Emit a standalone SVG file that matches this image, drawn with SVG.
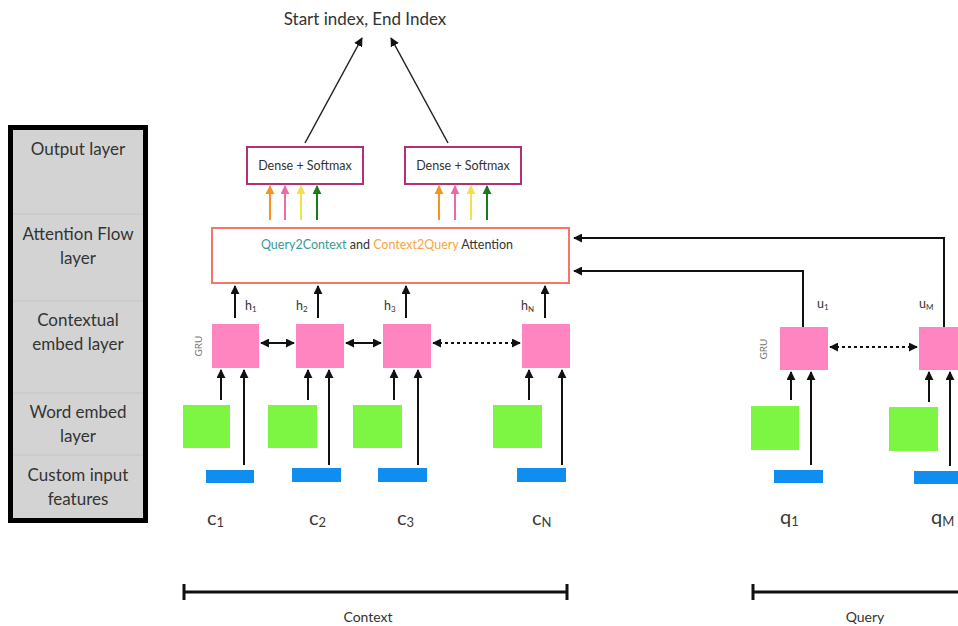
<svg xmlns="http://www.w3.org/2000/svg" width="958" height="626" viewBox="0 0 958 626">
  <style>
    text { font-family: Lato, "Open Sans", "Liberation Sans", sans-serif; fill: #333; }
    .side { font-size: 17px; text-anchor: middle; }
    .small { font-size: 12.5px; text-anchor: middle; }
    .tok { font-size: 20px; fill: #3a3a3a; }
    .hl { font-size: 12.5px; }
    .gru-lbl { font-size: 10px; fill: #777; text-anchor: middle; }
    .gru { fill: #ff85c0; }
    .emb { fill: #7cf643; }
    .feat { fill: #0f8ef0; }
    .ln { stroke: #111; stroke-width: 2; fill: none; }
    .thin { stroke: #222; stroke-width: 1.5; fill: none; }
    .dot { stroke: #111; stroke-width: 2; fill: none; stroke-dasharray: 3 3; }
    .dense { fill: #fff; stroke: #b0307a; stroke-width: 2; }
    .ruler { stroke: #111; stroke-width: 3; fill: none; }
  </style>
  <defs>
    <marker id="ah" viewBox="0 0 10 10" refX="9" refY="5" markerWidth="9" markerHeight="9" markerUnits="userSpaceOnUse" orient="auto-start-reverse">
      <path d="M0,0 L10,5 L0,10 z" fill="#111"/>
    </marker>
    <marker id="ah-or" viewBox="0 0 10 10" refX="9" refY="5" markerWidth="9" markerHeight="9" markerUnits="userSpaceOnUse" orient="auto">
      <path d="M0,0 L10,5 L0,10 z" fill="#f7931e"/>
    </marker>
    <marker id="ah-pk" viewBox="0 0 10 10" refX="9" refY="5" markerWidth="9" markerHeight="9" markerUnits="userSpaceOnUse" orient="auto">
      <path d="M0,0 L10,5 L0,10 z" fill="#ee6aa7"/>
    </marker>
    <marker id="ah-ye" viewBox="0 0 10 10" refX="9" refY="5" markerWidth="9" markerHeight="9" markerUnits="userSpaceOnUse" orient="auto">
      <path d="M0,0 L10,5 L0,10 z" fill="#f5df4d"/>
    </marker>
    <marker id="ah-gr" viewBox="0 0 10 10" refX="9" refY="5" markerWidth="9" markerHeight="9" markerUnits="userSpaceOnUse" orient="auto">
      <path d="M0,0 L10,5 L0,10 z" fill="#1b7a1b"/>
    </marker>
  </defs>

  <rect width="958" height="626" fill="#fff"/>

  <!-- layer legend column -->
  <g id="legend">
    <rect x="10.5" y="127.5" width="135" height="393" fill="#d3d3d3" stroke="#000" stroke-width="5"/>
    <g stroke="#c4c4c4" stroke-width="1">
      <line x1="13" y1="214" x2="143" y2="214"/>
      <line x1="13" y1="301" x2="143" y2="301"/>
      <line x1="13" y1="393" x2="143" y2="393"/>
      <line x1="13" y1="455" x2="143" y2="455"/>
    </g>
    <text class="side" x="78" y="155">Output layer</text>
    <text class="side" x="78" y="240">Attention Flow</text>
    <text class="side" x="78" y="264">layer</text>
    <text class="side" x="78" y="326">Contextual</text>
    <text class="side" x="78" y="350">embed layer</text>
    <text class="side" x="78" y="418">Word embed</text>
    <text class="side" x="78" y="442">layer</text>
    <text class="side" x="78" y="481">Custom input</text>
    <text class="side" x="78" y="505">features</text>
  </g>

  <!-- output -->
  <g id="output-label">
    <text class="side" x="365" y="25" font-size="17.5">Start index, End Index</text>
  </g>
  <g id="dense-start">
    <rect class="dense" x="247" y="147" width="116" height="37"/>
    <text class="small" x="305" y="170">Dense + Softmax</text>
  </g>
  <g id="dense-end">
    <rect class="dense" x="405" y="147" width="116" height="37"/>
    <text class="small" x="463" y="170">Dense + Softmax</text>
  </g>

  <!-- attention flow -->
  <g id="attention">
    <rect x="212" y="228" width="357" height="55" fill="#fff" stroke="#f07865" stroke-width="2"/>
    <text class="small" x="387" y="249" font-size="12.3"><tspan fill="#3a9a96">Query2Context</tspan> and <tspan fill="#f7a540">Context2Query</tspan> Attention</text>
  </g>

  <!-- context encoder -->
  <g id="ctx-1">
    <rect class="gru" x="212" y="324" width="47" height="44"/>
    <rect class="emb" x="183" y="405" width="47" height="43"/>
    <rect class="feat" x="206" y="470" width="48" height="13"/>
    <text class="gru-lbl" transform="translate(202,346) rotate(-90)">GRU</text>
    <text class="hl" x="245" y="310">h<tspan font-size="8" dy="2">1</tspan></text>
    <text class="tok" x="207" y="525">c<tspan font-size="13" dy="2">1</tspan></text>
  </g>
  <g id="ctx-2">
    <rect class="gru" x="296" y="324" width="48" height="44"/>
    <rect class="emb" x="268" y="405" width="49" height="43"/>
    <rect class="feat" x="292" y="468" width="49" height="14"/>
    <text class="hl" x="296" y="310">h<tspan font-size="8" dy="2">2</tspan></text>
    <text class="tok" x="309" y="525">c<tspan font-size="13" dy="2">2</tspan></text>
  </g>
  <g id="ctx-3">
    <rect class="gru" x="383" y="324" width="48" height="44"/>
    <rect class="emb" x="353" y="405" width="49" height="43"/>
    <rect class="feat" x="378" y="468" width="49" height="14"/>
    <text class="hl" x="384" y="310">h<tspan font-size="8" dy="2">3</tspan></text>
    <text class="tok" x="397" y="525">c<tspan font-size="13" dy="2">3</tspan></text>
  </g>
  <g id="ctx-n">
    <rect class="gru" x="522" y="324" width="48" height="44"/>
    <rect class="emb" x="493" y="405" width="49" height="43"/>
    <rect class="feat" x="517" y="468" width="49" height="14"/>
    <text class="hl" x="521" y="310">h<tspan font-size="8" dy="2">N</tspan></text>
    <text class="tok" x="532" y="525">c<tspan font-size="13" dy="2">N</tspan></text>
  </g>

  <!-- query encoder -->
  <g id="qry-1">
    <rect class="gru" x="780" y="327" width="48" height="43"/>
    <rect class="emb" x="751" y="406" width="48" height="44"/>
    <rect class="feat" x="774" y="470" width="49" height="13"/>
    <text class="gru-lbl" transform="translate(767,349) rotate(-90)">GRU</text>
    <text class="hl" x="817" y="308" font-size="11.5">u<tspan font-size="8" dy="2">1</tspan></text>
    <text class="tok" x="780" y="524">q<tspan font-size="13" dy="2">1</tspan></text>
  </g>
  <g id="qry-m">
    <rect class="gru" x="919" y="327" width="48" height="43"/>
    <rect class="emb" x="889" y="407" width="49" height="44"/>
    <rect class="feat" x="914" y="471" width="49" height="13"/>
    <text class="hl" x="919" y="308" font-size="11.5">u<tspan font-size="8" dy="2">M</tspan></text>
    <text class="tok" x="931" y="524">q<tspan font-size="13" dy="2">M</tspan></text>
  </g>

  <!-- span rulers -->
  <g id="ruler-context">
    <path class="ruler" d="M184,592 H567 M184,584 V600 M567,584 V600"/>
    <text x="368" y="622" font-size="14" text-anchor="middle">Context</text>
  </g>
  <g id="ruler-query">
    <path class="ruler" d="M753,592 H960 M753,584 V600"/>
    <text x="865" y="622" font-size="14" text-anchor="middle">Query</text>
  </g>

  <!-- connectors -->
  <g id="connectors">
    <!-- dense outputs to start/end index -->
    <line class="thin" x1="305" y1="143" x2="362" y2="38" marker-end="url(#ah)"/>
    <line class="thin" x1="448" y1="143" x2="391" y2="38" marker-end="url(#ah)"/>

    <!-- attention outputs into dense layers -->
    <g stroke-width="2">
      <line x1="270" y1="220" x2="270" y2="186" stroke="#f7931e" marker-end="url(#ah-or)"/>
      <line x1="285" y1="220" x2="285" y2="186" stroke="#ee6aa7" marker-end="url(#ah-pk)"/>
      <line x1="301" y1="220" x2="301" y2="186" stroke="#f5df4d" marker-end="url(#ah-ye)"/>
      <line x1="317" y1="220" x2="317" y2="186" stroke="#1b7a1b" marker-end="url(#ah-gr)"/>
      <line x1="439" y1="220" x2="439" y2="186" stroke="#f7931e" marker-end="url(#ah-or)"/>
      <line x1="455" y1="220" x2="455" y2="186" stroke="#ee6aa7" marker-end="url(#ah-pk)"/>
      <line x1="471" y1="220" x2="471" y2="186" stroke="#f5df4d" marker-end="url(#ah-ye)"/>
      <line x1="487" y1="220" x2="487" y2="186" stroke="#1b7a1b" marker-end="url(#ah-gr)"/>
    </g>

    <!-- context hidden states into attention -->
    <line class="ln" x1="235" y1="318" x2="235" y2="286" marker-end="url(#ah)"/>
    <line class="ln" x1="318" y1="318" x2="318" y2="286" marker-end="url(#ah)"/>
    <line class="ln" x1="406" y1="318" x2="406" y2="286" marker-end="url(#ah)"/>
    <line class="ln" x1="545" y1="318" x2="545" y2="286" marker-end="url(#ah)"/>

    <!-- query states into attention -->
    <path class="ln" d="M803,327 V271 H574" marker-end="url(#ah)"/>
    <path class="ln" d="M944,327 V238 H574" marker-end="url(#ah)"/>

    <!-- bidirectional recurrence -->
    <line class="ln" x1="261" y1="343" x2="294" y2="343" marker-start="url(#ah)" marker-end="url(#ah)"/>
    <line class="ln" x1="346" y1="343" x2="381" y2="343" marker-start="url(#ah)" marker-end="url(#ah)"/>
    <line class="dot" x1="433" y1="343" x2="520" y2="343" marker-start="url(#ah)" marker-end="url(#ah)"/>
    <line class="dot" x1="830" y1="347" x2="917" y2="347" marker-start="url(#ah)" marker-end="url(#ah)"/>

    <!-- embeddings and features into GRUs (context) -->
    <line class="ln" x1="221" y1="400" x2="221" y2="370" marker-end="url(#ah)"/>
    <line class="ln" x1="244" y1="465" x2="244" y2="370" marker-end="url(#ah)"/>
    <line class="ln" x1="308" y1="400" x2="308" y2="370" marker-end="url(#ah)"/>
    <line class="ln" x1="329" y1="465" x2="329" y2="370" marker-end="url(#ah)"/>
    <line class="ln" x1="394" y1="400" x2="394" y2="370" marker-end="url(#ah)"/>
    <line class="ln" x1="418" y1="465" x2="418" y2="370" marker-end="url(#ah)"/>
    <line class="ln" x1="529" y1="400" x2="529" y2="370" marker-end="url(#ah)"/>
    <line class="ln" x1="562" y1="465" x2="562" y2="370" marker-end="url(#ah)"/>

    <!-- embeddings and features into GRUs (query) -->
    <line class="ln" x1="791" y1="400" x2="791" y2="372" marker-end="url(#ah)"/>
    <line class="ln" x1="811" y1="465" x2="811" y2="372" marker-end="url(#ah)"/>
    <line class="ln" x1="929" y1="402" x2="929" y2="372" marker-end="url(#ah)"/>
    <line class="ln" x1="950" y1="466" x2="950" y2="372" marker-end="url(#ah)"/>
  </g>
</svg>
